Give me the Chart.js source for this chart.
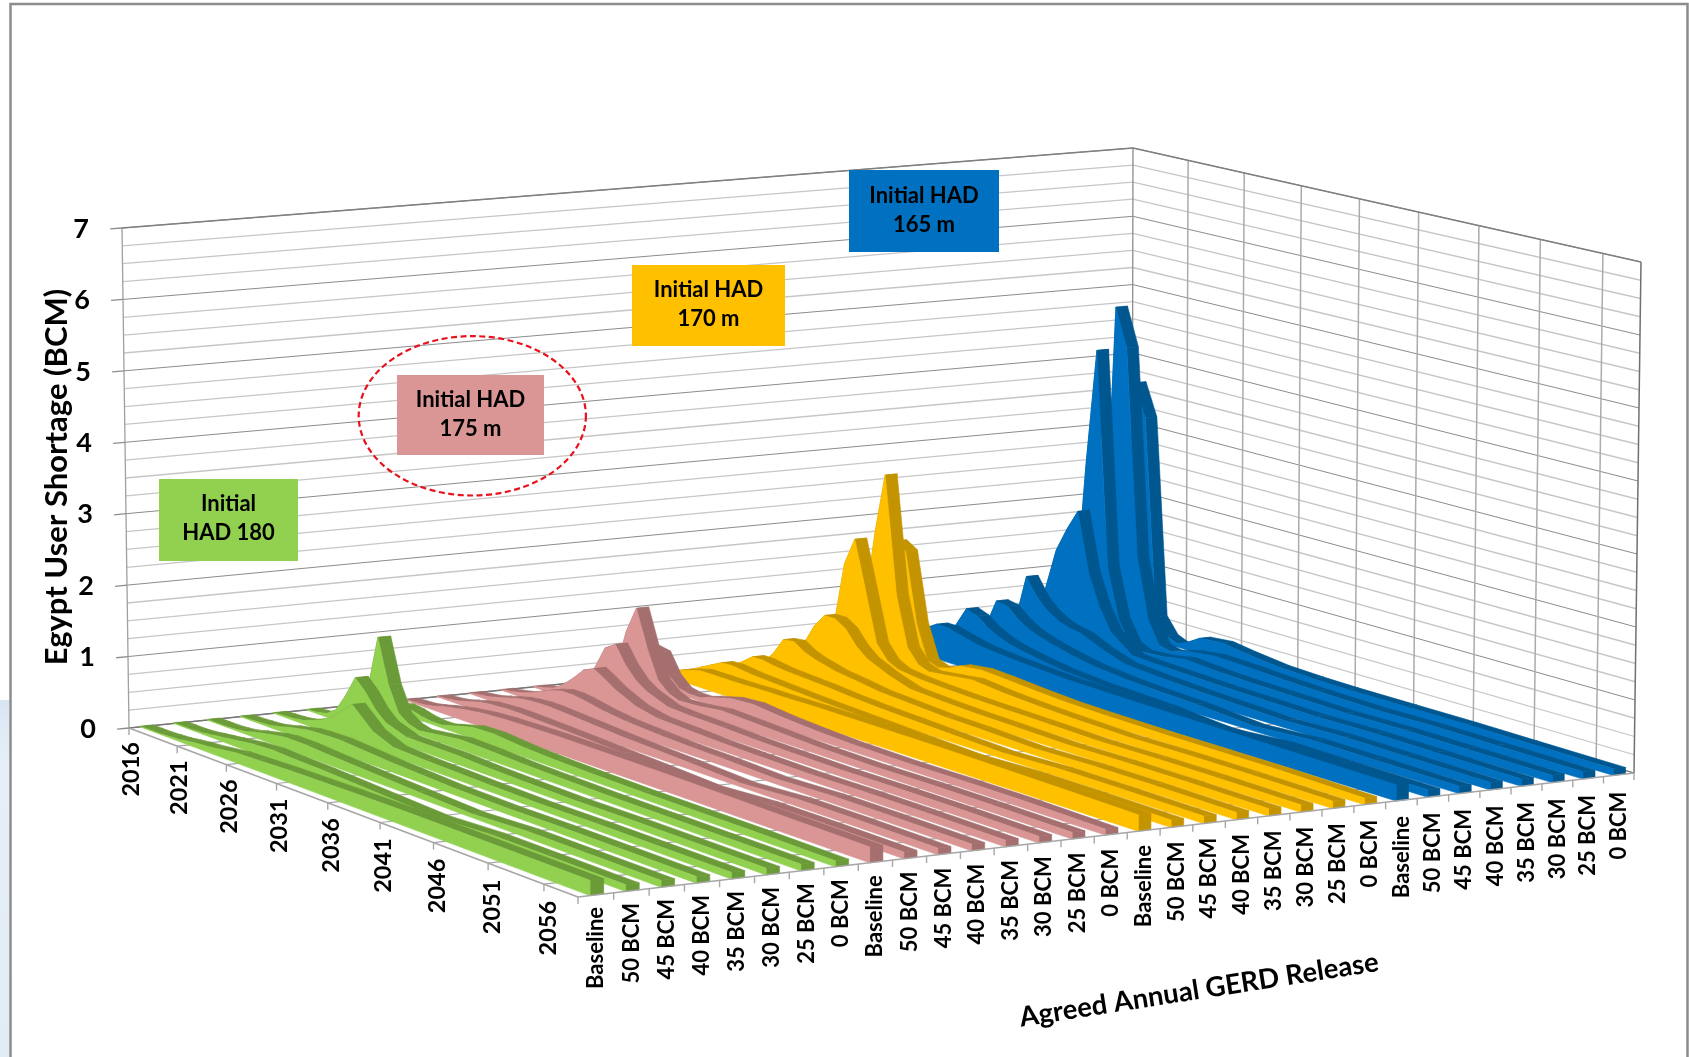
<!DOCTYPE html>
<html>
<head>
<meta charset="utf-8">
<title>Egypt User Shortage</title>
<script src="https://cdn.jsdelivr.net/npm/chart.js@4"></script>
<style>
  html, body { margin: 0; background: #fff; }
  canvas { display: block; }
</style>
</head>
<body>
<canvas id="chart" width="1689" height="1057"></canvas>
<script>
const CANVAS_W = 1689;
const CANVAS_H = 1057;

const yearTicks = [2016, 2021, 2026, 2031, 2036, 2041, 2046, 2051, 2056];
const lastYear = 2059;
const releases = ["Baseline", "50 BCM", "45 BCM", "40 BCM", "35 BCM", "30 BCM", "25 BCM", "0 BCM"];
const valueTicks = [0, 1, 2, 3, 4, 5, 6, 7];

// years the shortage rows below are read at
const years = [2016, 2017, 2018, 2019, 2020, 2021, 2022, 2023, 2024, 2026, 2028, 2031, 2034, 2037, 2042, 2047, 2052, 2059];

const had180 = [
  [.01, .01, .01, .02, .03, .05, .07, .08, .10, .14, .15, .17, .18, .19, .20, .20, .20, .20],
  [.01, .01, .01, .02, .04, .06, .08, .10, .12, .14, .13, .12, .10, .08, .05, .09, .09, .09],
  [.01, .01, .01, .02, .04, .08, .11, .14, .16, .16, .14, .12, .10, .08, .05, .09, .09, .09],
  [.01, .01, .02, .03, .06, .10, .13, .16, .17, .18, .16, .13, .11, .09, .08, .09, .09, .09],
  [.01, .02, .03, .05, .10, .16, .25, .38, .52, .25, .13, .11, .10, .09, .08, .09, .09, .09],
  [.01, .02, .05, .15, .40, .70, .55, .35, .22, .12, .12, .12, .10, .09, .08, .09, .09, .09],
  [.01, .03, .12, .45, 1.17, .55, .20, .10, .06, .10, .14, .13, .11, .10, .09, .09, .09, .09],
  [.01, .03, .08, .12, .10, .06, .04, .04, .08, .16, .17, .13, .11, .10, .09, .09, .09, .08]
];
const had175 = [
  [.01, .02, .03, .06, .10, .13, .16, .18, .20, .22, .23, .24, .24, .24, .24, .23, .22, .21],
  [.01, .02, .04, .08, .12, .15, .16, .17, .17, .16, .15, .13, .11, .09, .05, .10, .10, .09],
  [.01, .03, .05, .09, .13, .17, .19, .20, .20, .18, .16, .13, .11, .09, .05, .10, .10, .09],
  [.01, .03, .06, .11, .18, .24, .28, .28, .26, .20, .16, .13, .11, .10, .07, .10, .10, .09],
  [.01, .04, .08, .18, .32, .48, .55, .46, .36, .22, .15, .13, .11, .10, .09, .10, .10, .09],
  [.01, .06, .15, .38, .70, .80, .55, .38, .28, .16, .14, .13, .11, .10, .09, .10, .10, .09],
  [.01, .08, .30, .85, 1.22, .70, .30, .16, .10, .12, .16, .14, .12, .10, .09, .10, .10, .09],
  [.01, .12, .53, .50, .22, .08, .05, .05, .10, .18, .20, .15, .12, .10, .09, .10, .10, .08]
];
const had170 = [
  [.01, .08, .15, .20, .24, .24, .24, .24, .24, .25, .25, .26, .26, .26, .26, .25, .24, .22],
  [.02, .10, .18, .26, .27, .25, .23, .22, .21, .19, .17, .15, .13, .11, .08, .11, .11, .10],
  [.02, .08, .18, .30, .30, .27, .25, .24, .23, .21, .18, .15, .13, .11, .08, .11, .11, .10],
  [.02, .08, .25, .50, .52, .42, .36, .32, .28, .24, .19, .16, .13, .12, .09, .11, .11, .10],
  [.02, .12, .35, .65, .85, .85, .75, .55, .42, .28, .18, .15, .13, .12, .10, .11, .11, .10],
  [.02, .15, .60, 1.5, 1.9, 1.2, .50, .30, .22, .18, .16, .14, .13, .12, .10, .11, .11, .10],
  [.02, .25, .80, 1.9, 2.78, 1.1, .40, .20, .14, .18, .22, .17, .14, .12, .10, .11, .11, .10],
  [.02, .50, 1.7, 1.6, .60, .12, .06, .10, .18, .22, .20, .16, .13, .12, .11, .11, .11, .09]
];
const had165 = [
  [.20, .30, .40, .50, .50, .46, .42, .38, .36, .33, .31, .28, .27, .26, .25, .24, .23, .22],
  [.05, .15, .40, .68, .62, .50, .42, .36, .32, .26, .21, .17, .15, .13, .06, .12, .11, .10],
  [.05, .10, .35, .75, .72, .58, .48, .42, .37, .29, .23, .18, .15, .13, .07, .12, .11, .10],
  [.05, .10, .40, 1.06, .80, .65, .55, .50, .47, .33, .22, .18, .15, .13, .10, .12, .11, .10],
  [.05, .20, .80, 1.4, 1.75, 2.05, 1.2, .75, .45, .20, .18, .16, .14, .13, .11, .12, .11, .10],
  [.05, .20, .60, 2.6, 4.3, 1.2, .50, .20, .12, .14, .20, .16, .14, .13, .11, .12, .11, .10],
  [.05, .30, 1.2, 4.85, 4.3, 1.3, .45, .12, .08, .16, .20, .18, .15, .13, .11, .12, .11, .10],
  [.05, .60, 3.67, 3.2, .35, .12, .05, .12, .22, .25, .20, .14, .12, .11, .11, .11, .10, .09]
];

const groups = [
  { rows: had180, light: "#92D050", dark: "#6B9B38" },
  { rows: had175, light: "#D99694", dark: "#A46F6E" },
  { rows: had170, light: "#FFC000", dark: "#C49400" },
  { rows: had165, light: "#0070C0", dark: "#00568F" }
];

const notes = [
  { lines: ["Initial", "HAD 180"], box: [159, 479, 139, 82], fill: "#92D050", ty: [504, 533] },
  { lines: ["Initial HAD", "175 m"], box: [397, 375, 147, 80], fill: "#D99694", ty: [400, 429] },
  { lines: ["Initial HAD", "170 m"], box: [632, 265, 153, 81], fill: "#FFC000", ty: [290, 319] },
  { lines: ["Initial HAD", "165 m"], box: [849, 170, 150, 82], fill: "#0070C0", ty: [196, 225] }
];

const seriesCount = groups.length * releases.length;
const maxValue = valueTicks[valueTicks.length - 1];

// unit square -> quad homography, used for the floor and ceiling of the 3D box
function quadMap(a, d, c, b) {
  const dx1 = d[0] - c[0], dx2 = b[0] - c[0], sx = a[0] - d[0] + c[0] - b[0];
  const dy1 = d[1] - c[1], dy2 = b[1] - c[1], sy = a[1] - d[1] + c[1] - b[1];
  const den = dx1 * dy2 - dx2 * dy1;
  const g = (sx * dy2 - dx2 * sy) / den;
  const h = (dx1 * sy - sx * dy1) / den;
  return (u, v) => {
    const w = 1 + g * u + h * v;
    return [
      ((d[0] - a[0] + g * d[0]) * u + (b[0] - a[0] + h * b[0]) * v + a[0]) / w,
      ((d[1] - a[1] + g * d[1]) * u + (b[1] - a[1] + h * b[1]) * v + a[1]) / w
    ];
  };
}

const floorAt = quadMap([129, 728], [1132, 626], [1634, 773], [578, 897]);
const ceilAt = quadMap([122, 228], [1133, 148], [1641, 262], [578, 357]);

// u: across the series, v: along the years, z: shortage in BCM
function project(u, v, z) {
  const f = floorAt(u, v), t = ceilAt(u, v), k = z / maxValue;
  return { x: f[0] + (t[0] - f[0]) * k, y: f[1] + (t[1] - f[1]) * k };
}

const yearV = (year) => (year - yearTicks[0]) / (lastYear - yearTicks[0]);

function polygon(points, color) {
  return {
    data: points.concat([points[0]]),
    fill: "shape",
    backgroundColor: color,
    borderColor: color,
    borderWidth: 0.6,
    tension: 0,
    pointRadius: 0
  };
}

function segment(from, to, color, width) {
  return {
    data: [from, to],
    fill: false,
    borderColor: color,
    borderWidth: width,
    tension: 0,
    pointRadius: 0
  };
}

function wallDatasets() {
  const out = [];
  // horizontal rules on both walls, every quarter BCM
  for (let q = 0; q <= maxValue * 4; q++) {
    const z = q / 4;
    const major = q % 4 === 0;
    const color = major ? "#8c8c8c" : "#c6c6c6";
    const width = major ? 1 : 1.3;
    out.push(segment(project(0, 0, z), project(1, 0, z), color, width));
    out.push(segment(project(1, 0, z), project(1, 1, z), color, width));
  }
  // year lines up the right wall and across the floor
  yearTicks.slice(1).forEach((year) => {
    const v = yearV(year);
    out.push(segment(project(1, v, 0), project(1, v, maxValue), "#ababab", 1.5));
    out.push(segment(project(0, v, 0), project(1, v, 0), "#a6a6a6", 1.2));
  });
  out.push(segment(project(0, 0, 0), project(0, 0, maxValue), "#a0a0a0", 1.3));
  out.push(segment(project(1, 0, 0), project(1, 0, maxValue), "#8c8c8c", 1.3));
  out.push(segment(project(1, 1, 0), project(1, 1, maxValue), "#707070", 1.5));
  out.push(segment(project(0, 0, maxValue), project(1, 0, maxValue), "#808080", 1.3));
  out.push(segment(project(1, 0, maxValue), project(1, 1, maxValue), "#808080", 1.3));
  out.push(segment(project(1, 0, 0), project(1, 1, 0), "#777777", 1.3));
  out.push(segment(project(0, 0, 0), project(1, 0, 0), "#777777", 1.3));
  return out;
}

function axisDatasets() {
  const out = [];
  out.push(segment(project(0, 0, 0), project(0, 1, 0), "#a6a6a6", 1.6));
  out.push(segment(project(0, 1, 0), project(1, 1, 0), "#a6a6a6", 1.6));
  yearTicks.forEach((year) => {
    const p = project(0, yearV(year), 0);
    out.push(segment(p, { x: p.x, y: p.y + 7 }, "#a6a6a6", 1.4));
  });
  for (let s = 0; s <= seriesCount; s++) {
    const p = project(s / seriesCount, 1, 0);
    out.push(segment(p, { x: p.x, y: p.y + 7 }, "#a6a6a6", 1.4));
  }
  valueTicks.forEach((z) => {
    out.push(segment(project(0, 0, z), project(-0.011, 0, z), "#8c8c8c", 1.3));
  });
  return out;
}

// one ribbon: top strip, end cap, then the side face nearest the viewer
function ribbonDatasets(row, slot, light, dark) {
  const u0 = (slot + 0.33) / seriesCount;
  const u1 = (slot + 0.72) / seriesCount;
  const vs = years.map(yearV);
  const out = [];
  for (let i = 0; i < row.length - 1; i++) {
    out.push(polygon([
      project(u0, vs[i], row[i]),
      project(u1, vs[i], row[i]),
      project(u1, vs[i + 1], row[i + 1]),
      project(u0, vs[i + 1], row[i + 1])
    ], dark));
  }
  const last = row[row.length - 1];
  out.push(polygon([
    project(u0, 1, 0), project(u1, 1, 0), project(u1, 1, last), project(u0, 1, last)
  ], dark));
  const side = row.map((z, i) => project(u0, vs[i], z));
  side.push(project(u0, 1, 0), project(u0, 0, 0));
  out.push(polygon(side, light));
  return out;
}

function ribbons() {
  const out = [];
  // far series first so nearer ones paint over them
  for (let g = groups.length - 1; g >= 0; g--) {
    for (let r = releases.length - 1; r >= 0; r--) {
      const slot = g * releases.length + r;
      out.push(...ribbonDatasets(groups[g].rows[r], slot, groups[g].light, groups[g].dark));
    }
  }
  return out;
}

const paintOrder = [...wallDatasets(), ...ribbons(), ...axisDatasets()];

function rotatedText(ctx, text, x, y, angle, align, font) {
  ctx.save();
  ctx.translate(x, y);
  ctx.rotate(angle);
  ctx.textAlign = align;
  ctx.textBaseline = "middle";
  ctx.font = font;
  ctx.fillStyle = "#000";
  ctx.fillText(text, 0, 0);
  ctx.restore();
}

const pageFrame = {
  id: "pageFrame",
  beforeDraw(chart) {
    const ctx = chart.ctx;
    ctx.save();
    ctx.fillStyle = "#fff";
    ctx.fillRect(0, 0, CANVAS_W, CANVAS_H);
    const strip = ctx.createLinearGradient(0, 690, 0, CANVAS_H);
    strip.addColorStop(0, "#d6e4f1");
    strip.addColorStop(0.2, "#e6eff8");
    strip.addColorStop(1, "#e2ecf6");
    ctx.fillStyle = strip;
    ctx.fillRect(0, 700, 9, CANVAS_H - 700);
    ctx.strokeStyle = "#8c8c8c";
    ctx.lineWidth = 2.5;
    ctx.beginPath();
    ctx.moveTo(10.5, CANVAS_H);
    ctx.lineTo(10.5, 4);
    ctx.lineTo(1687.5, 4);
    ctx.lineTo(1687.5, CANVAS_H);
    ctx.stroke();
    ctx.restore();
  }
};

const axisText = {
  id: "axisText",
  afterDatasetsDraw(chart) {
    const ctx = chart.ctx;
    const { x: xs, y: ys } = chart.scales;
    const at = (p) => [xs.getPixelForValue(p.x), ys.getPixelForValue(p.y)];

    valueTicks.forEach((z) => {
      const [px, py] = at(project(0, 0, z));
      rotatedText(ctx, String(z), px - 41, py + 1, 0, "center", "700 27px Lato");
    });
    yearTicks.forEach((year) => {
      const v = yearV(year);
      const [px, py] = at(project(0, v, 0));
      rotatedText(ctx, String(year), px + 2 + 3 * v, py + 14 + 3 * v, -Math.PI / 2, "right", "700 23.5px Lato");
    });
    for (let s = 0; s < seriesCount; s++) {
      const [px, py] = at(project((s + 0.5) / seriesCount, 1, 0));
      rotatedText(ctx, releases[s % releases.length], px, py + 12 + 5 * s / seriesCount, -Math.PI / 2, "right", "700 22px Lato");
    }
    rotatedText(ctx, "Egypt User Shortage (BCM)", 57, 477, -Math.PI / 2, "center", "700 31px Lato");
    rotatedText(ctx, "Agreed Annual GERD Release", 1199, 990, -0.155, "center", "700 27.5px Lato");

    notes.forEach((n) => {
      const [bx, by, bw, bh] = n.box;
      ctx.fillStyle = n.fill;
      ctx.fillRect(bx, by, bw, bh);
      n.lines.forEach((line, i) => {
        rotatedText(ctx, line, bx + bw / 2, n.ty[i], 0, "center", "700 22px Lato");
      });
    });

    // dashed ring around the 175 m note
    ctx.save();
    ctx.strokeStyle = "#E8121C";
    ctx.lineWidth = 2.2;
    ctx.setLineDash([6, 3.5]);
    ctx.beginPath();
    ctx.ellipse(472.3, 415.8, 113.6, 79.7, 0, 0, Math.PI * 2);
    ctx.stroke();
    ctx.restore();
  }
};

new Chart(document.getElementById("chart"), {
  type: "line",
  // Chart.js paints the last dataset first
  data: { datasets: paintOrder.slice().reverse() },
  options: {
    responsive: false,
    animation: false,
    layout: { padding: 0 },
    plugins: { legend: { display: false }, tooltip: { enabled: false } },
    scales: {
      x: { type: "linear", min: 0, max: CANVAS_W, display: false },
      y: { type: "linear", min: 0, max: CANVAS_H, reverse: true, display: false }
    }
  },
  plugins: [pageFrame, axisText]
});
</script>
</body>
</html>
